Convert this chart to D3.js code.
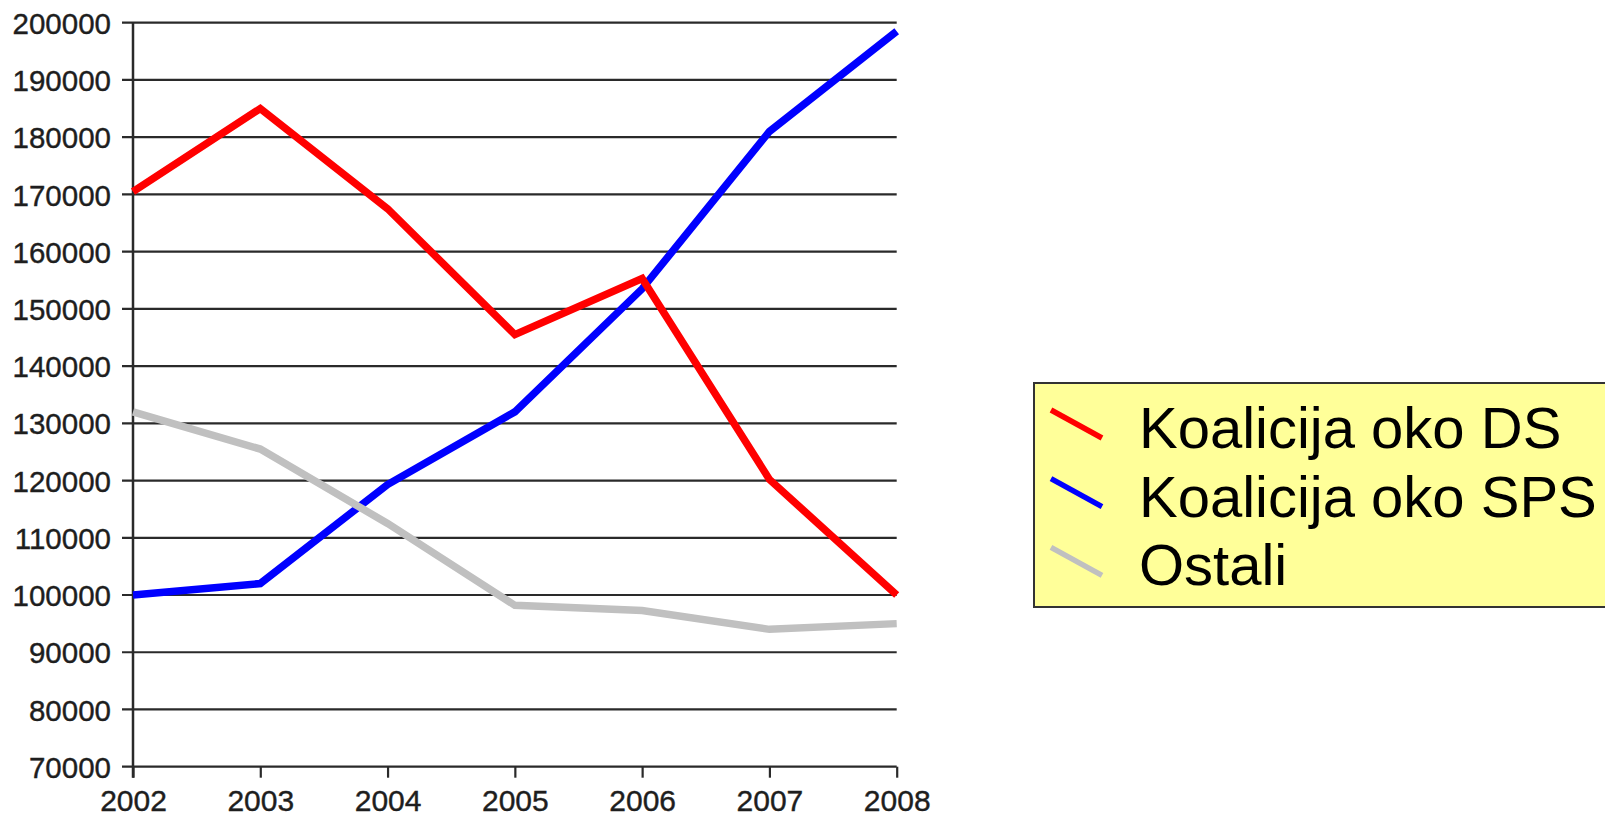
<!DOCTYPE html>
<html>
<head>
<meta charset="utf-8">
<script src="https://cdn.jsdelivr.net/npm/d3@7"></script>
<style>
  html, body { margin: 0; padding: 0; background: #fff; }
  svg { display: block; }
  text { font-family: "Liberation Sans", Arial, Helvetica, sans-serif; }
</style>
</head>
<body>
<svg id="chart" width="1605" height="816"></svg>
<script>
// Broj glasova po godinama
const years = [2002, 2003, 2004, 2005, 2006, 2007, 2008];
const koalicijaDS  = [170500, 185000, 167500, 145500, 155300, 120200, 100000];
const koalicijaSPS = [100000, 102000, 119300, 132000, 153500, 181000, 198500];
const ostali       = [132000, 125500, 112500, 98200, 97300, 94000, 95000];
const yTicks = [70000, 80000, 90000, 100000, 110000, 120000, 130000, 140000,
                150000, 160000, 170000, 180000, 190000, 200000];

const seriesNames  = ["Koalicija oko DS", "Koalicija oko SPS", "Ostali"];
const seriesColors = ["#ff0000", "#0000ff", "#c0c0c0"];
const seriesValues = [koalicijaDS, koalicijaSPS, ostali];

const svg = d3.select("#chart");
svg.append("rect").attr("width", 1605).attr("height", 816).attr("fill", "#fff");

const margin = { left: 133, top: 22.7 };
const width = 763.7, height = 744;

const x = d3.scaleLinear().domain([2002, 2008]).range([0, width]);
const y = d3.scaleLinear().domain([70000, 200000]).range([height, 0]);

const g = svg.append("g").attr("transform", `translate(${margin.left},${margin.top})`);

const line = d3.line()
  .x((d, i) => x(years[i]))
  .y(d => y(d));

// horizontal grid lines (extend left as tick marks)
g.append("g").selectAll("line")
  .data(yTicks)
  .join("line")
  .attr("x1", -11).attr("x2", width)
  .attr("y1", d => y(d)).attr("y2", d => y(d))
  .attr("stroke", "#2a2a2a").attr("stroke-width", 2.2);

// y axis labels
const yAxis = g.append("g")
  .call(d3.axisLeft(y).tickValues(yTicks).tickFormat(d3.format("d"))
    .tickSize(0).tickPadding(22));
yAxis.select(".domain").remove();
yAxis.selectAll("text")
  .attr("font-size", 29.5).attr("fill", "#1e1e1e")
  .attr("stroke", "#1e1e1e").attr("stroke-width", 0.4)
  .attr("font-family", "Liberation Sans, Arial, sans-serif")
  .attr("dy", "0.36em");

// x axis
const xAxis = g.append("g")
  .attr("transform", `translate(0,${height})`)
  .call(d3.axisBottom(x).tickValues(years).tickFormat(d3.format("d"))
    .tickSize(11).tickPadding(12).tickSizeOuter(0));
xAxis.select(".domain").remove();
xAxis.selectAll("line").attr("stroke", "#2a2a2a").attr("stroke-width", 2.2);
xAxis.selectAll("text")
  .attr("font-size", 30).attr("fill", "#1e1e1e")
  .attr("stroke", "#1e1e1e").attr("stroke-width", 0.4)
  .attr("font-family", "Liberation Sans, Arial, sans-serif");

// vertical axis line
g.append("line")
  .attr("x1", 0).attr("x2", 0)
  .attr("y1", 0).attr("y2", height + 11)
  .attr("stroke", "#2a2a2a").attr("stroke-width", 2.5);

// series lines: SPS first, then DS, then Ostali on top
const drawOrder = [1, 0, 2];
g.append("g").selectAll("path")
  .data(drawOrder)
  .join("path")
  .attr("d", i => line(seriesValues[i]))
  .attr("fill", "none")
  .attr("stroke", i => seriesColors[i])
  .attr("stroke-width", 7.5)
  .attr("stroke-linejoin", "miter");

// legend
const legend = svg.append("g");
legend.append("rect")
  .attr("x", 1034).attr("y", 383)
  .attr("width", 620).attr("height", 224)
  .attr("fill", "#ffff99")
  .attr("stroke", "#333").attr("stroke-width", 2);

const items = legend.selectAll("g.item")
  .data(seriesNames)
  .join("g")
  .attr("class", "item")
  .attr("transform", (d, i) => `translate(0,${i * 68.7})`);

items.append("line")
  .attr("x1", 1051).attr("y1", 410)
  .attr("x2", 1102).attr("y2", 438)
  .attr("stroke", (d, i) => seriesColors[i])
  .attr("stroke-width", 5.5);

items.append("text")
  .attr("x", 1139).attr("y", 448)
  .attr("font-size", 58)
  .attr("fill", "#000")
  .text(d => d);
</script>
</body>
</html>
